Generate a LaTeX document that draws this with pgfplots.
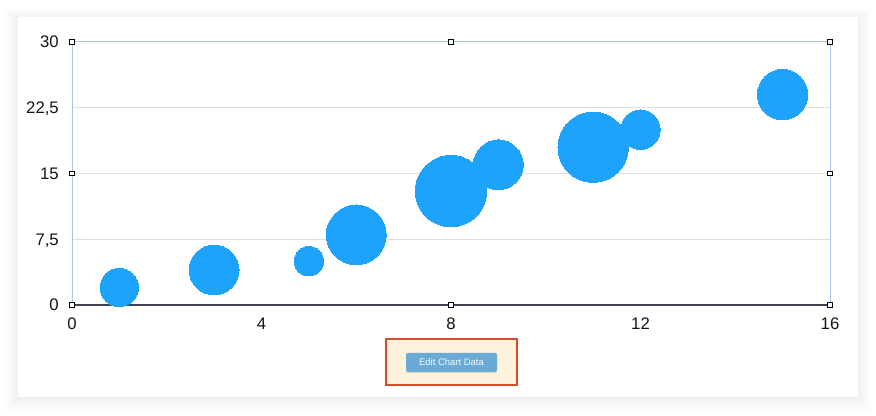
\documentclass[border=0pt]{standalone}
\usepackage{pgfplots}
\pgfplotsset{compat=1.18}
\usepackage{fontspec}
\setmainfont{Liberation Sans}
\definecolor{bubble}{RGB}{30,163,252}
\definecolor{framecol}{RGB}{170,196,238}
\definecolor{axisdark}{RGB}{62,66,80}
\definecolor{gridcol}{RGB}{222,222,222}
\definecolor{labelcol}{RGB}{20,20,20}
\definecolor{boxfill}{RGB}{253,242,220}
\definecolor{boxborder}{RGB}{214,76,40}
\definecolor{btnfill}{RGB}{106,170,214}
\pgfplotstableread{
x y r
1 2 19.2
3 4 25
5 5 14.8
6 8 30
8 13 35.8
9 16 25
11 18 35.3
12 20 19.8
15 24 25.3
}\bubbles
\pgfplotstableread{
x y
0 30
8 30
16 30
0 15
16 15
0 0
8 0
16 0
}\handles
\begin{document}
\begin{tikzpicture}
\fill[white] (0,0) rectangle (876bp,416bp);
\useasboundingbox (0,0) rectangle (876bp,416bp);
% card shadow
\foreach \k in {1,...,14}{
  \fill[black,opacity=0.0045] ({(18-\k)*1bp},{(18-\k)*1bp}) rectangle ({(858+\k)*1bp},{(398+\k*0.7)*1bp});
}
\fill[white] (18bp,19bp) rectangle (858bp,399bp);
\begin{axis}[
  at={(72bp,111bp)}, anchor=south west,
  scale only axis, width=758bp, height=263bp,
  xmin=0, xmax=16, ymin=0, ymax=30,
  clip=false,
  axis line style={draw=none},
  major tick length=0pt,
  xtick={0,4,8,12,16}, xticklabels={0,4,8,12,16},
  ytick={0,7.5,15,22.5,30}, yticklabels={0,{7,5},15,{22,5},30},
  ymajorgrids, major grid style={draw=gridcol, line width=1bp},
  tick label style={font=\fontsize{16.8}{19}\selectfont, text=labelcol},
  xticklabel style={anchor=north, inner sep=0pt, yshift=-13bp},
  yticklabel style={anchor=base east, inner sep=0pt, xshift=-13bp, yshift=-6bp},
]
\addplot[scatter, only marks, mark=*,
  scatter/use mapped color={draw=bubble, fill=bubble},
  mark options={draw=bubble, fill=bubble, line width=0pt},
  visualization depends on={\thisrow{r}\as\rad},
  scatter/@pre marker code/.append style={/tikz/mark size=\rad}]
  table[x=x, y=y] {\bubbles};
\draw[framecol, line width=1bp] (axis cs:0,0) -- (axis cs:0,30) -- (axis cs:16,30) -- (axis cs:16,0);
\draw[axisdark, line width=1.3bp] (axis cs:0,0) -- (axis cs:16,0);
\addplot[only marks, mark=square*, mark size=2.3bp,
  mark options={fill=white, draw=black, line width=0.7bp}]
  table[x=x, y=y] {\handles};
\end{axis}
% Edit Chart Data button
\filldraw[fill=boxfill, draw=boxborder, line width=2bp] (386bp,31bp) rectangle (517bp,77bp);
\fill[black, opacity=0.12, rounded corners=2bp] (406bp,43bp) rectangle (497bp,62bp);
\fill[btnfill, rounded corners=2bp] (406bp,44bp) rectangle (497bp,63bp);
\node[text=white!92!btnfill, font=\fontsize{9.5}{11}\selectfont, inner sep=0pt] at (451.5bp,53.5bp) {Edit Chart Data};
\end{tikzpicture}
\end{document}
